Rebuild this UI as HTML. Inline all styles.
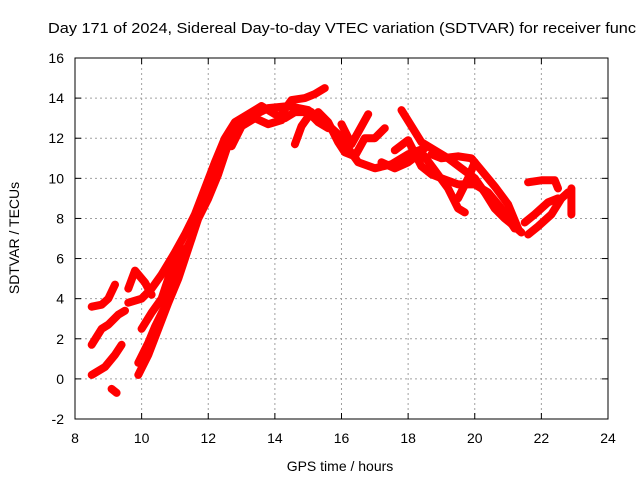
<!DOCTYPE html>
<html><head><meta charset="utf-8"><style>
body{margin:0;background:#fff}
svg{display:block;font-family:"Liberation Sans",sans-serif}
</style></head><body>
<svg id="c" width="640" height="480">
<text x="48" y="33" font-size="15" textLength="588" lengthAdjust="spacingAndGlyphs" fill="#000">Day 171 of 2024, Sidereal Day-to-day VTEC variation (SDTVAR) for receiver func</text>
<g id="grid"></g>
<g id="ticks"></g>
<g id="series"></g>
<rect x="75" y="58" width="533" height="361" fill="none" stroke="#000" stroke-width="1"/>
<text x="340" y="471" font-size="14" text-anchor="middle">GPS time / hours</text>
<text transform="translate(19,238) rotate(-90)" font-size="14" text-anchor="middle">SDTVAR / TECUs</text>
</svg>
<script>
const xTicks=[8,10,12,14,16,18,20,22,24];
const yTicks=[-2,0,2,4,6,8,10,12,14,16];
const trackA=[[9.6,3.8],[10.0,4.0],[10.3,4.5],[10.6,5.2],[11.0,6.3],[11.3,7.2],[11.6,8.2],[11.9,9.5],[12.2,10.8],[12.5,12.0],[12.8,12.8],[13.2,13.2],[13.6,13.6],[14.0,13.2],[14.3,13.0],[14.6,13.3],[15.0,13.3],[15.3,12.8],[15.6,12.5]];
const trackB=[[9.9,0.2],[10.2,1.2],[10.5,2.5],[10.8,3.8],[11.1,5.0],[11.4,6.5],[11.7,8.0],[12.0,9.0],[12.3,10.2],[12.6,11.7],[12.9,12.6],[13.3,13.1],[13.8,13.5],[14.4,13.6],[15.0,13.4],[15.5,12.8],[15.9,12.2],[16.2,11.5],[16.5,10.8],[17.0,10.5],[17.5,10.7],[18.0,11.2],[18.5,11.5]];
const trackC=[[8.5,0.2],[8.9,0.6],[9.2,1.2],[9.4,1.7]];
const trackD=[[8.5,1.7],[8.8,2.5],[9.0,2.7],[9.3,3.2],[9.5,3.4]];
const trackE=[[8.5,3.6],[8.8,3.7],[9.0,4.0],[9.2,4.7]];
const trackF=[[9.6,4.5],[9.8,5.4],[10.1,4.8],[10.3,4.2]];
const trackG=[[9.9,0.8],[10.2,1.8],[10.4,2.6],[10.7,3.6],[11.0,4.8],[11.2,6.0],[11.5,7.0]];
const trackH=[[10.0,2.5],[10.3,3.3],[10.6,4.0],[10.9,5.5],[11.2,6.5]];
const trackI=[[14.2,13.2],[14.5,13.9],[14.9,14.0],[15.2,14.2],[15.5,14.5]];
const trackJ=[[14.6,11.7],[14.8,12.6],[15.1,13.3]];
const trackK=[[15.3,13.3],[15.6,12.8],[15.9,11.8],[16.1,11.3],[16.4,11.1],[16.7,12.0],[17.0,12.0],[17.3,12.5]];
const trackL=[[16.0,12.7],[16.3,11.7],[16.5,12.3],[16.8,13.2]];
const trackM=[[17.8,13.4],[18.1,12.6],[18.4,11.8],[18.8,11.4],[19.2,11.0],[19.6,10.5],[20.0,10.0],[20.3,9.3],[20.6,8.5],[20.9,8.0],[21.2,7.6],[21.4,7.3]];
const trackN=[[17.2,10.8],[17.6,10.5],[18.0,10.8],[18.4,11.3],[18.8,10.4],[19.2,9.5],[19.5,8.5],[19.7,8.3]];
const trackO=[[17.6,11.4],[18.0,11.9],[18.4,10.6],[18.7,10.2],[19.0,10.0],[19.5,9.7],[20.0,9.7],[20.4,9.3],[20.8,8.5],[21.2,7.5]];
const trackP=[[18.7,11.2],[19.0,11.0],[19.5,11.1],[19.9,11.0],[20.2,10.4],[20.6,9.6],[21.0,8.7],[21.3,7.5]];
const trackQ=[[19.5,9.0],[19.8,10.0],[20.0,10.8]];
const trackR=[[21.6,7.2],[21.9,7.6],[22.3,8.2],[22.6,9.0],[22.8,9.3]];
const trackS=[[21.5,7.8],[21.8,8.2],[22.2,8.8],[22.5,9.0]];
const trackT=[[21.6,9.8],[22.0,9.9],[22.4,9.9],[22.5,9.5]];
const trackU=[[22.9,9.5],[22.9,8.5],[22.9,8.2]];
const trackV=[[9.1,-0.5],[9.25,-0.7]];
const trackW=[[12.7,11.6],[13.0,12.6],[13.4,13.0],[13.8,12.7],[14.2,12.9]];
const tracks=[trackA,trackB,trackC,trackD,trackE,trackF,trackG,trackH,trackI,trackJ,trackK,trackL,trackM,trackN,trackO,trackP,trackQ,trackR,trackS,trackT,trackU,trackV,trackW];

const X0=75,X1=608,Y0=419,Y1=58;
const sx=v=>X0+(v-8)/(24-8)*(X1-X0);
const sy=v=>Y0-(v+2)/(16+2)*(Y0-Y1);
const NS="http://www.w3.org/2000/svg";
const grid=document.getElementById('grid'),ticks=document.getElementById('ticks'),ser=document.getElementById('series');
function mk(tag,attrs,parent){const e=document.createElementNS(NS,tag);for(const k in attrs)e.setAttribute(k,attrs[k]);parent.appendChild(e);return e;}
xTicks.forEach(t=>{
  const x=sx(t);
  if(t>8&&t<24){const g=mk('line',{x1:x,x2:x,y1:Y1,y2:Y0,stroke:'#a0a0a0','stroke-dasharray':'2,3'},grid);
  
  }
  const tx=mk('text',{x:x,y:443,'font-size':14,'text-anchor':'middle'},ticks);tx.textContent=t;
  
  
  mk('line',{x1:x,x2:x,y1:Y0,y2:Y0-6,stroke:'#000'},ticks);
  mk('line',{x1:x,x2:x,y1:Y1,y2:Y1+6,stroke:'#000'},ticks);
});
yTicks.forEach(t=>{
  const y=sy(t);
  if(t>-2&&t<16){const g=mk('line',{x1:X0,x2:X1,y1:y,y2:y,stroke:'#a0a0a0','stroke-dasharray':'2,3'},grid);
  
  }
  const tx=mk('text',{x:64,y:y+5,'font-size':14,'text-anchor':'end'},ticks);tx.textContent=t;
  
  
  mk('line',{x1:X0,x2:X0+6,y1:y,y2:y,stroke:'#000'},ticks);
  mk('line',{x1:X1,x2:X1-6,y1:y,y2:y,stroke:'#000'},ticks);
});
tracks.forEach(tr=>{
  const pts=tr.map(p=>sx(p[0]).toFixed(1)+','+sy(p[1]).toFixed(1)).join(' ');
  const pl=mk('polyline',{points:pts,fill:'none',stroke:'#ff0000','stroke-width':8,'stroke-linejoin':'round','stroke-linecap':'round'},ser);
  
  
});
</script>
</body></html>
